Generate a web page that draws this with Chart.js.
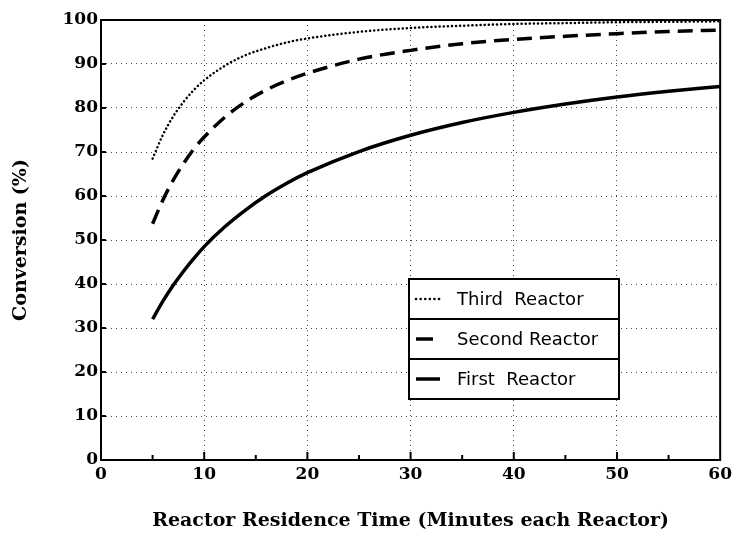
<!DOCTYPE html>
<html>
<head>
<meta charset="utf-8">
<script src="https://cdn.jsdelivr.net/npm/chart.js@4.4.1/dist/chart.umd.min.js"></script>
<style>
  html, body { margin: 0; padding: 0; background: #fff; }
  #wrap { width: 736px; height: 537px; }
</style>
</head>
<body>
<div id="wrap"><canvas id="myChart" width="736" height="537"></canvas></div>
<script>
// residence time (min) and conversion (%)
const times = [5, 6, 7, 8, 9, 10, 12, 14, 16, 18, 20, 25, 30, 35, 40, 45, 50, 55, 60]
const firstReactor = [32.0, 36.1, 39.7, 42.9, 45.8, 48.5, 53.0, 56.8, 60.1, 62.9, 65.3, 70.1, 73.8, 76.7, 79.0, 80.9, 82.5, 83.8, 84.9]
const secondReactor = [53.7, 59.1, 63.6, 67.4, 70.7, 73.4, 77.9, 81.4, 84.1, 86.2, 87.9, 91.1, 93.1, 94.6, 95.6, 96.3, 96.9, 97.4, 97.7]
const thirdReactor = [68.5, 73.9, 78.1, 81.4, 84.1, 86.3, 89.6, 92.0, 93.6, 94.9, 95.8, 97.3, 98.2, 98.7, 99.1, 99.3, 99.5, 99.6, 99.7]
const xTicks = [0, 10, 20, 30, 40, 50, 60]
const yTicks = [0, 10, 20, 30, 40, 50, 60, 70, 80, 90, 100]

const serif = "'DejaVu Serif', serif"
const sans = "'DejaVu Sans', sans-serif"

const toPoints = vals => vals.map((v, i) => ({ x: times[i], y: v }))

// frame + inward tick marks
const framePlugin = {
  id: "frame",
  afterDraw(chart) {
    const { ctx, chartArea: a, scales } = chart
    ctx.save()
    ctx.strokeStyle = "#000"
    ctx.lineWidth = 2
    ctx.strokeRect(a.left, a.top, a.right - a.left, a.bottom - a.top)
    ctx.beginPath()
    yTicks.forEach(v => {
      const y = scales.y.getPixelForValue(v)
      ctx.moveTo(a.left, y)
      ctx.lineTo(a.left + 5, y)
    })
    for (let v = 5; v < 60; v += 5) {
      const x = scales.x.getPixelForValue(v)
      ctx.moveTo(x, a.bottom)
      ctx.lineTo(x, a.bottom - (v % 10 === 0 ? 8 : 5))
    }
    ctx.stroke()
    ctx.restore()
  }
}

// boxed legend inside the plot
const boxLegend = {
  id: "boxLegend",
  afterDraw(chart) {
    const { ctx, chartArea: a } = chart
    const left = a.left + 308, top = a.top + 259, w = 210, rowH = 40
    const rows = [2, 1, 0]
    ctx.save()
    ctx.fillStyle = "#fff"
    ctx.fillRect(left, top, w, rowH * rows.length)
    ctx.strokeStyle = "#000"
    ctx.lineWidth = 2
    ctx.strokeRect(left, top, w, rowH * rows.length)
    rows.forEach((di, i) => {
      const ds = chart.data.datasets[di]
      const cy = top + rowH * i + rowH / 2
      if (i > 0) {
        ctx.beginPath()
        ctx.moveTo(left, top + rowH * i)
        ctx.lineTo(left + w, top + rowH * i)
        ctx.lineWidth = 2
        ctx.setLineDash([])
        ctx.stroke()
      }
      ctx.beginPath()
      ctx.lineWidth = ds.borderWidth
      ctx.lineCap = ds.borderCapStyle || "butt"
      ctx.setLineDash(ds.legendDash || [])
      ctx.moveTo(left + 7, cy)
      ctx.lineTo(left + (di === 1 ? 24 : 31), cy)
      ctx.stroke()
      ctx.setLineDash([])
      ctx.fillStyle = "#000"
      ctx.font = "18px " + sans
      ctx.textBaseline = "middle"
      ctx.fillText(ds.label, left + 48, cy + 1)
    })
    ctx.restore()
  }
}

const gridStyle = {
  color: "#444",
  lineWidth: 1,
  drawTicks: false
}

new Chart(document.getElementById("myChart").getContext("2d"), {
  type: "line",
  data: {
    datasets: [
      {
        label: "First  Reactor",
        data: toPoints(firstReactor),
        borderColor: "#000",
        borderWidth: 3.5,
        pointRadius: 0,
        fill: false,
        cubicInterpolationMode: "monotone"
      },
      {
        label: "Second Reactor",
        data: toPoints(secondReactor),
        borderColor: "#000",
        borderWidth: 3.5,
        borderDash: [15, 8],
        pointRadius: 0,
        fill: false,
        cubicInterpolationMode: "monotone"
      },
      {
        label: "Third  Reactor",
        data: toPoints(thirdReactor),
        borderColor: "#000",
        borderWidth: 2.5,
        borderDash: [0.1, 4],
        borderCapStyle: "round",
        legendDash: [0.1, 4.5],
        pointRadius: 0,
        fill: false,
        cubicInterpolationMode: "monotone"
      }
    ]
  },
  options: {
    responsive: false,
    animation: false,
    layout: { padding: { top: 20, right: 15, left: 0, bottom: 0 } },
    plugins: {
      legend: { display: false },
      tooltip: { enabled: false }
    },
    scales: {
      x: {
        type: "linear",
        min: 0,
        max: 60,
        afterBuildTicks: scale => { scale.ticks = xTicks.map(v => ({ value: v })) },
        afterFit: scale => { scale.height = 77 },
        ticks: {
          color: "#000",
          padding: 4,
          maxRotation: 0,
          font: { family: serif, size: 17, weight: "bold" }
        },
        grid: gridStyle,
        border: { display: false, dash: [1, 4] },
        title: {
          display: true,
          text: "Reactor Residence Time (Minutes each Reactor)",
          color: "#000",
          padding: { top: 0, bottom: 5 },
          font: { family: serif, size: 19, weight: "bold" }
        }
      },
      y: {
        min: 0,
        max: 100,
        afterBuildTicks: scale => { scale.ticks = yTicks.map(v => ({ value: v })) },
        afterFit: scale => { scale.width = 101 },
        ticks: {
          color: "#000",
          padding: 3,
          font: { family: serif, size: 17, weight: "bold" }
        },
        grid: gridStyle,
        border: { display: false, dash: [1, 4] },
        title: {
          display: true,
          text: "Conversion (%)",
          color: "#000",
          padding: { top: 10, bottom: 0 },
          font: { family: serif, size: 19, weight: "bold" }
        }
      }
    }
  },
  plugins: [framePlugin, boxLegend]
})
</script>
</body>
</html>
